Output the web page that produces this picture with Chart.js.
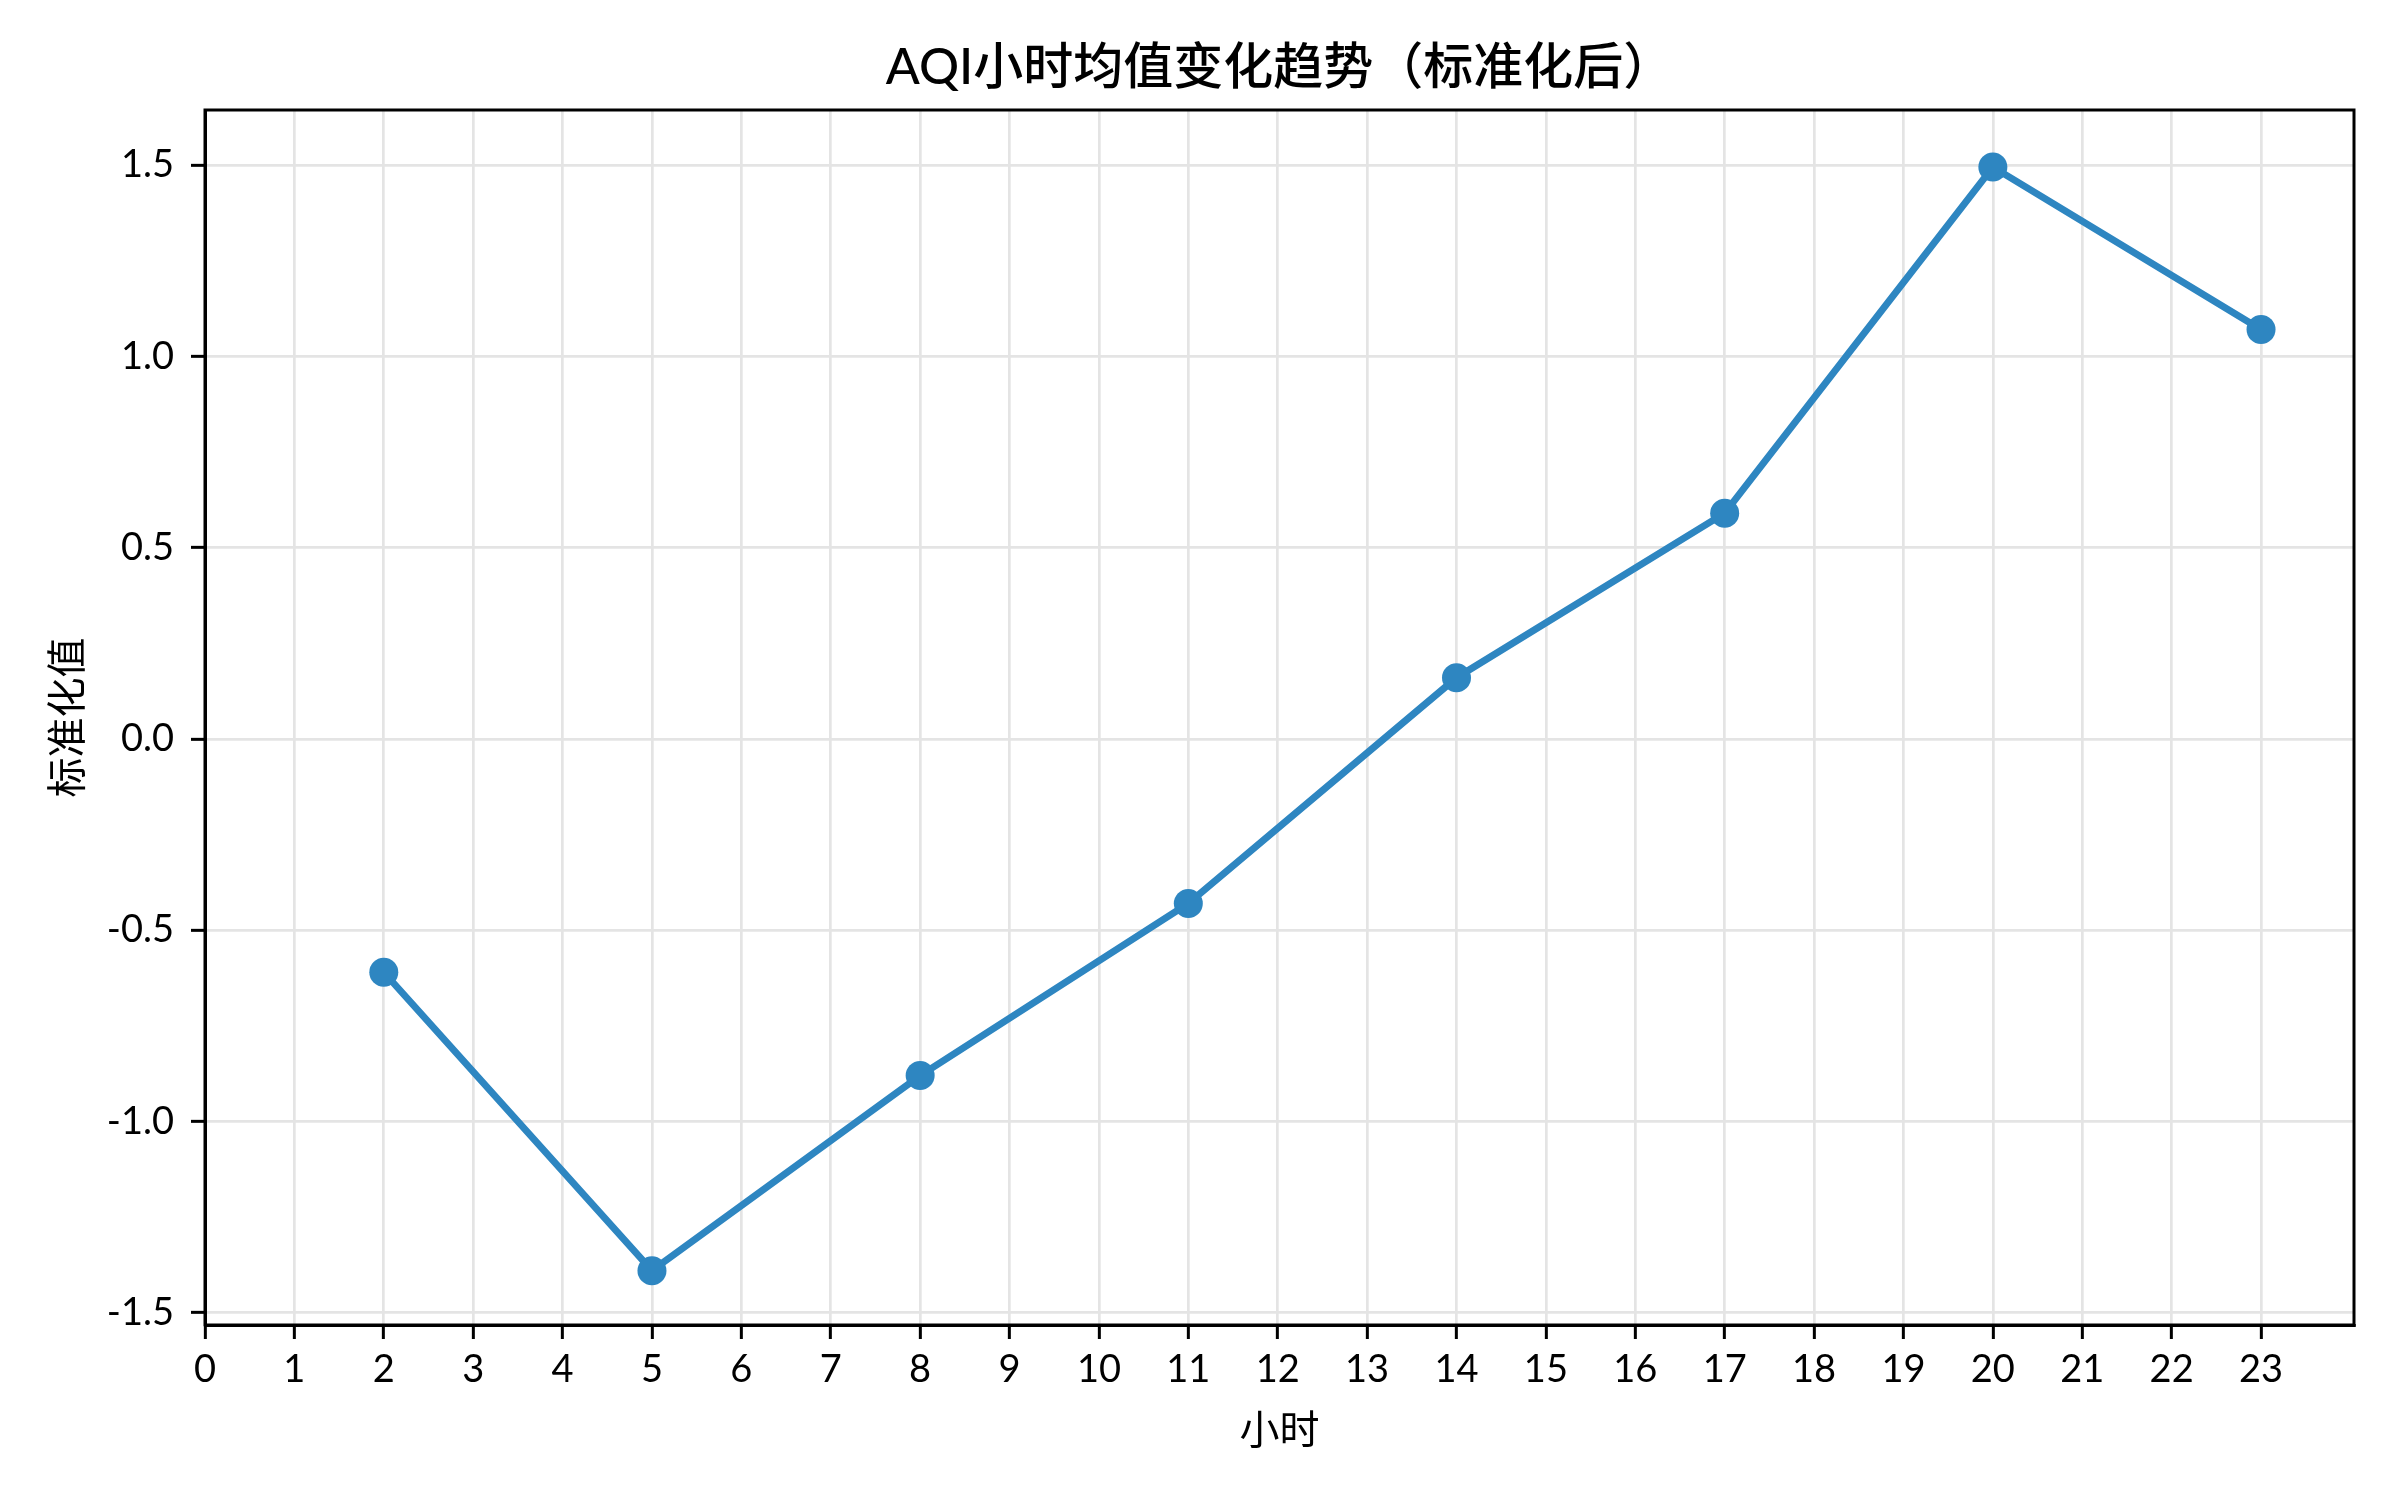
<!doctype html>
<html>
<head>
<meta charset="utf-8">
<title>AQI小时均值变化趋势</title>
<script src="https://cdn.jsdelivr.net/npm/chart.js@4/dist/chart.umd.min.js"></script>
<style>
html, body { margin: 0; padding: 0; background: #fff; }
canvas { display: block; }
</style>
</head>
<body>
<canvas id="canvas" width="2400" height="1500"></canvas>
<script>
// data
var hours = [2, 5, 8, 11, 14, 17, 20, 23];
var aqiStd = [-0.61, -1.39, -0.88, -0.43, 0.16, 0.59, 1.495, 1.07];
var xTickValues = [0,1,2,3,4,5,6,7,8,9,10,11,12,13,14,15,16,17,18,19,20,21,22,23];
var yTickValues = [-1.5, -1.0, -0.5, 0.0, 0.5, 1.0, 1.5];

var titleText = 'AQI小时均值变化趋势（标准化后）';
var xTitle = '小时';
var yTitle = '标准化值';

var fontFamily = "Lato, 'Noto Sans CJK SC', sans-serif";
var lineColor = '#2e86c1';
var gridColor = '#e4e4e4';

var points = [];
for (var i = 0; i < hours.length; i++) {
	points.push({ x: hours[i], y: aqiStd[i] });
}

// box round the plot area, and the title centred over it
var frame = {
	id: 'frame',
	afterDatasetsDraw: function(chart) {
		var a = chart.chartArea, ctx = chart.ctx;
		ctx.save();
		ctx.strokeStyle = '#000';
		ctx.lineWidth = 3;
		ctx.strokeRect(a.left, a.top, a.right - a.left, a.bottom - a.top);
		ctx.fillStyle = '#000';
		ctx.font = '500 50px ' + fontFamily;
		ctx.textAlign = 'center';
		ctx.textBaseline = 'middle';
		ctx.fillText(titleText, (a.left + a.right) / 2, 68);
		ctx.restore();
	}
};

var ctx = document.getElementById('canvas').getContext('2d');
var myChart = new Chart(ctx, {
	type: 'scatter',
	data: {
		datasets: [{
			label: 'AQI',
			data: points,
			showLine: true,
			borderColor: lineColor,
			backgroundColor: lineColor,
			borderWidth: 7,
			pointRadius: 14.5,
			pointHoverRadius: 14.5,
			pointBorderWidth: 0
		}]
	},
	options: {
		responsive: false,
		animation: false,
		devicePixelRatio: 1,
		layout: { padding: { left: 0, right: 46, top: 110, bottom: 0 } },
		plugins: {
			legend: { display: false },
			tooltip: { enabled: false },
			title: { display: false }
		},
		scales: {
			x: {
				type: 'linear',
				min: 0,
				max: 24.04,
				afterBuildTicks: function(s) {
					s.ticks = xTickValues.map(function(v) { return { value: v }; });
				},
				afterFit: function(s) { s.height = 175; },
				ticks: {
					color: '#000',
					font: { family: fontFamily, size: 38 },
					padding: 8,
					maxRotation: 0,
					autoSkip: false,
					callback: function(v) { return String(v); }
				},
				grid: {
					color: gridColor,
					lineWidth: 2.7,
					tickColor: '#000',
					tickWidth: 3,
					tickLength: 14
				},
				border: { color: '#000', width: 3 },
				title: {
					display: true,
					text: xTitle,
					color: '#000',
					font: { family: fontFamily, size: 40 },
					padding: { top: 0, bottom: 45 }
				}
			},
			y: {
				type: 'linear',
				min: -1.532,
				max: 1.644,
				afterBuildTicks: function(s) {
					s.ticks = yTickValues.map(function(v) { return { value: v }; });
				},
				afterFit: function(s) { s.width = 205; },
				ticks: {
					color: '#000',
					font: { family: fontFamily, size: 38 },
					padding: 17,
					callback: function(v) { return v.toFixed(1); }
				},
				grid: {
					color: gridColor,
					lineWidth: 2.7,
					tickColor: '#000',
					tickWidth: 3,
					tickLength: 14
				},
				border: { color: '#000', width: 3 },
				title: {
					display: true,
					text: yTitle,
					color: '#000',
					font: { family: fontFamily, size: 40 },
					padding: { top: 44, bottom: 0 }
				}
			}
		}
	},
	plugins: [frame]
});
</script>
</body>
</html>
